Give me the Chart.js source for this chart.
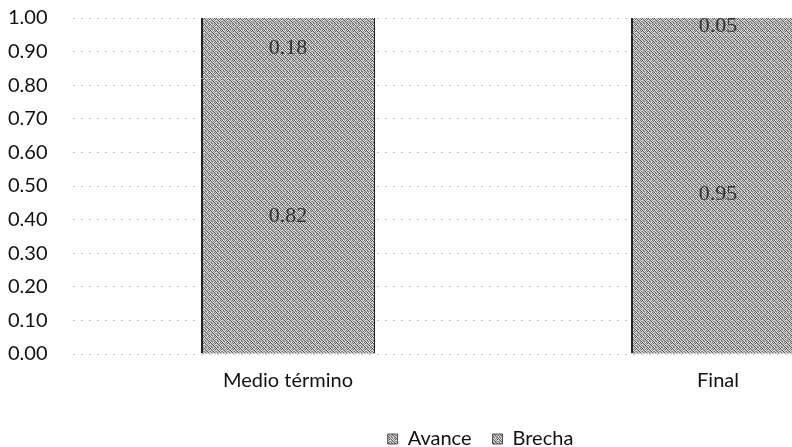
<!DOCTYPE html>
<html>
<head>
<meta charset="utf-8">
<script src="https://cdn.jsdelivr.net/npm/chart.js@4/dist/chart.umd.min.js"></script>
<style>
  html, body { margin: 0; padding: 0; background: #fff; overflow: hidden; }
  #wrap { width: 940px; height: 459px; }
</style>
</head>
<body>
<div id="wrap"><canvas id="chart"></canvas></div>
<script>
const categories = ['Medio término', 'Final'];
const avance = [0.82, 0.95];
const brecha = [0.18, 0.05];
const yTicks = [0, 0.1, 0.2, 0.3, 0.4, 0.5, 0.6, 0.7, 0.8, 0.9, 1.0];

// Trama gris tipo escaneo (mosaico fijo)
function makeTexture() {
  const tile = [
    '#555', '#eee', '#999', '#ddd', '#777', '#ccc',
    '#bbb', '#666', '#e4e4e4', '#888', '#d0d0d0', '#5c5c5c',
    '#e8e8e8', '#a0a0a0', '#606060', '#d8d8d8', '#8c8c8c', '#e0e0e0',
    '#7a7a7a', '#d4d4d4', '#b0b0b0', '#585858', '#e6e6e6', '#909090',
    '#c8c8c8', '#6a6a6a', '#dcdcdc', '#a8a8a8', '#646464', '#cfcfcf',
    '#e2e2e2', '#8a8a8a', '#707070', '#d6d6d6', '#b4b4b4', '#5e5e5e'
  ];
  const c = document.createElement('canvas');
  c.width = 6; c.height = 6;
  const ctx = c.getContext('2d');
  tile.forEach((col, i) => {
    ctx.fillStyle = col;
    ctx.fillRect(i % 6, Math.floor(i / 6), 1, 1);
  });
  return ctx.createPattern(c, 'repeat');
}
const texture = makeTexture();
const font = 'Lato, "Open Sans", sans-serif';

// Etiquetas de valor dentro de cada segmento
const valueLabels = {
  id: 'valueLabels',
  afterDatasetsDraw(chart) {
    const ctx = chart.ctx;
    ctx.save();
    ctx.font = '22px "Liberation Serif", "DejaVu Serif", serif';
    ctx.fillStyle = '#333';
    ctx.textAlign = 'center';
    ctx.textBaseline = 'middle';
    chart.data.datasets.forEach((ds, di) => {
      chart.getDatasetMeta(di).data.forEach((bar, i) => {
        const mid = (bar.y + bar.base) / 2;
        ctx.fillText(ds.data[i].toFixed(2), bar.x, mid);
      });
    });
    ctx.restore();
  }
};

// desplaza la leyenda un poco a la derecha
const legendShift = {
  id: 'legendShift',
  afterLayout(chart) {
    if (chart.legend) chart.legend.left += 20;
  }
};

new Chart(document.getElementById('chart'), {
  type: 'bar',
  data: {
    labels: categories,
    datasets: [
      {
        label: 'Avance',
        data: avance,
        backgroundColor: texture,
        borderColor: '#222',
        borderWidth: { left: 2, right: 1, top: 0, bottom: 0 },
        borderSkipped: false,
        inflateAmount: 1
      },
      {
        label: 'Brecha',
        data: brecha,
        backgroundColor: texture,
        borderColor: '#222',
        borderWidth: { left: 2, right: 1, top: 0, bottom: 0 },
        borderSkipped: false,
        inflateAmount: 1
      }
    ]
  },
  options: {
    responsive: true,
    maintainAspectRatio: false,
    animation: false,
    layout: { padding: { left: 8, top: 8, right: 7, bottom: 0 } },
    datasets: { bar: { categoryPercentage: 0.4, barPercentage: 1.0 } },
    scales: {
      x: {
        stacked: true,
        grid: { display: false, drawTicks: false },
        border: { display: false },
        ticks: {
          color: '#111',
          padding: 15,
          font: { size: 20, family: font }
        }
      },
      y: {
        stacked: true,
        min: 0,
        max: 1,
        afterFit: (scale) => { scale.width = 65; },
        afterBuildTicks: (scale) => {
          scale.ticks = yTicks.map(v => ({ value: v }));
        },
        border: { display: false, dash: [2, 6] },
        grid: {
          color: 'rgba(0,0,0,0.22)',
          lineWidth: 1,
          drawTicks: false
        },
        ticks: {
          color: '#111',
          crossAlign: 'far',
          padding: 8,
          font: { size: 20, family: font, lineHeight: 1.0 },
          callback: (v) => Number(v).toFixed(2)
        }
      }
    },
    plugins: {
      legend: {
        position: 'bottom',
        labels: {
          color: '#111',
          boxWidth: 10,
          boxHeight: 10,
          padding: 21,
          font: { size: 20, family: font }
        }
      },
      tooltip: { enabled: false }
    }
  },
  plugins: [valueLabels, legendShift]
});
</script>
</body>
</html>
